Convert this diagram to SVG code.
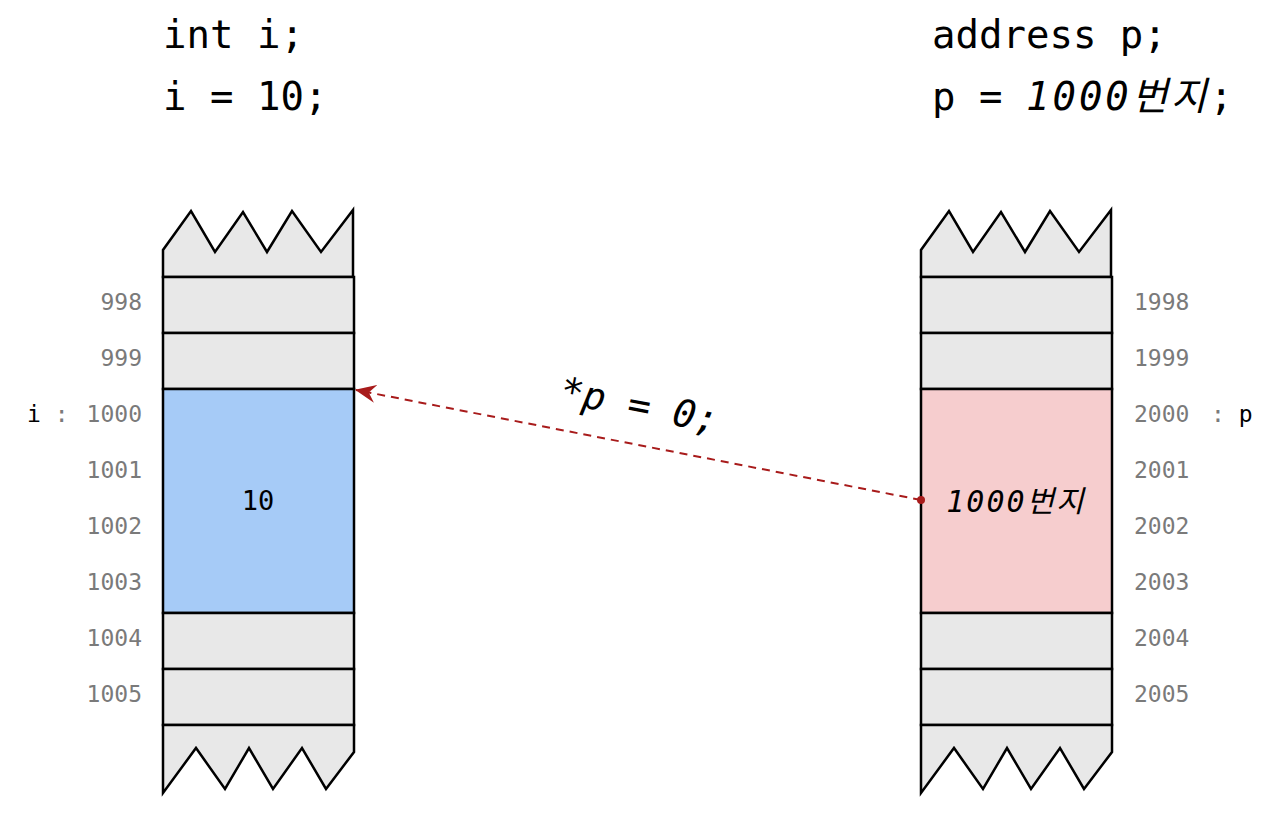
<svg xmlns="http://www.w3.org/2000/svg" width="1280" height="821" viewBox="0 0 1280 821">
<style>
.mono{font-family:"DejaVu Sans Mono","Liberation Mono","Noto Sans CJK KR",monospace}
.code{font-size:39px;fill:#000}
.addr{font-size:23px;fill:#7a7a7a}
.lbl{font-size:23px;fill:#000}
.cell{stroke:#000;stroke-width:2.5}
.g{fill:#e8e8e8}
.b{fill:#a6cbf7}
.p{fill:#f6cdce}
.edge{fill:#e8e8e8;stroke:#000;stroke-width:2.5;stroke-linejoin:miter}
</style>
<defs>
<marker id="ah" viewBox="0 0 22 20" refX="20" refY="10" markerWidth="22" markerHeight="20" markerUnits="userSpaceOnUse" orient="auto">
<path d="M21,10 L0,1 L7,10 L0,19 Z" fill="#a81b1b"/>
</marker>
</defs>
<rect width="1280" height="821" fill="#fff"/>
<g id="code-left" class="mono code">
<text x="163" y="48">int i;</text>
<text x="163" y="110">i = 10;</text>
</g>
<g id="code-right" class="mono code">
<text x="932" y="48">address p;</text>
<text x="932" y="110">p = <tspan font-style="italic" letter-spacing="3">1000번지</tspan>;</text>
</g>
<g id="memory-left">
<path class="edge" d="M163,277 L163,250 L191,211 L215,252 L243,212 L267,252 L292,211 L321,252 L353,210 L353,277 Z"/>
<rect class="cell g" x="163" y="277" width="191" height="56"/>
<rect class="cell g" x="163" y="333" width="191" height="56"/>
<rect class="cell b" x="163" y="389" width="191" height="224"/>
<rect class="cell g" x="163" y="613" width="191" height="56"/>
<rect class="cell g" x="163" y="669" width="191" height="56"/>
<path class="edge" d="M163,725 L163,793 L196,748 L225,789 L249,748 L273,789 L302,748 L326,789 L354,752 L354,725 Z"/>
<text class="mono" x="258" y="510" font-size="27" text-anchor="middle">10</text>
</g>
<g id="addr-left" class="mono addr" text-anchor="end">
<text x="142" y="310">998</text>
<text x="142" y="366">999</text>
<text x="142" y="422">1000</text>
<text x="142" y="478">1001</text>
<text x="142" y="534">1002</text>
<text x="142" y="590">1003</text>
<text x="142" y="646">1004</text>
<text x="142" y="702">1005</text>
</g>
<g id="label-i" class="mono lbl">
<text x="27" y="422">i <tspan fill="#7a7a7a">:</tspan></text>
</g>
<g id="memory-right">
<path class="edge" d="M921,277 L921,250 L949,211 L973,252 L1001,212 L1025,252 L1050,211 L1079,252 L1111,210 L1111,277 Z"/>
<rect class="cell g" x="921" y="277" width="191" height="56"/>
<rect class="cell g" x="921" y="333" width="191" height="56"/>
<rect class="cell p" x="921" y="389" width="191" height="224"/>
<rect class="cell g" x="921" y="613" width="191" height="56"/>
<rect class="cell g" x="921" y="669" width="191" height="56"/>
<path class="edge" d="M921,725 L921,793 L954,748 L983,789 L1007,748 L1031,789 L1060,748 L1084,789 L1112,752 L1112,725 Z"/>
<text class="mono" x="1016" y="512" font-size="30" font-style="italic" letter-spacing="2" text-anchor="middle">1000번지</text>
</g>
<g id="addr-right" class="mono addr">
<text x="1134" y="310">1998</text>
<text x="1134" y="366">1999</text>
<text x="1134" y="422">2000</text>
<text x="1134" y="478">2001</text>
<text x="1134" y="534">2002</text>
<text x="1134" y="590">2003</text>
<text x="1134" y="646">2004</text>
<text x="1134" y="702">2005</text>
</g>
<g id="label-p" class="mono lbl">
<text x="1211" y="422"><tspan fill="#7a7a7a">:</tspan> p</text>
</g>
<g id="connectors">
<line x1="921" y1="500" x2="356" y2="390" stroke="#a81b1b" stroke-width="2" stroke-dasharray="8,6" marker-end="url(#ah)"/>
<circle cx="921" cy="500" r="4" fill="#a81b1b"/>
<text class="mono" x="0" y="0" font-size="38" font-style="italic" transform="translate(637,418) rotate(11)" text-anchor="middle">*p = 0;</text>
</g>
</svg>
